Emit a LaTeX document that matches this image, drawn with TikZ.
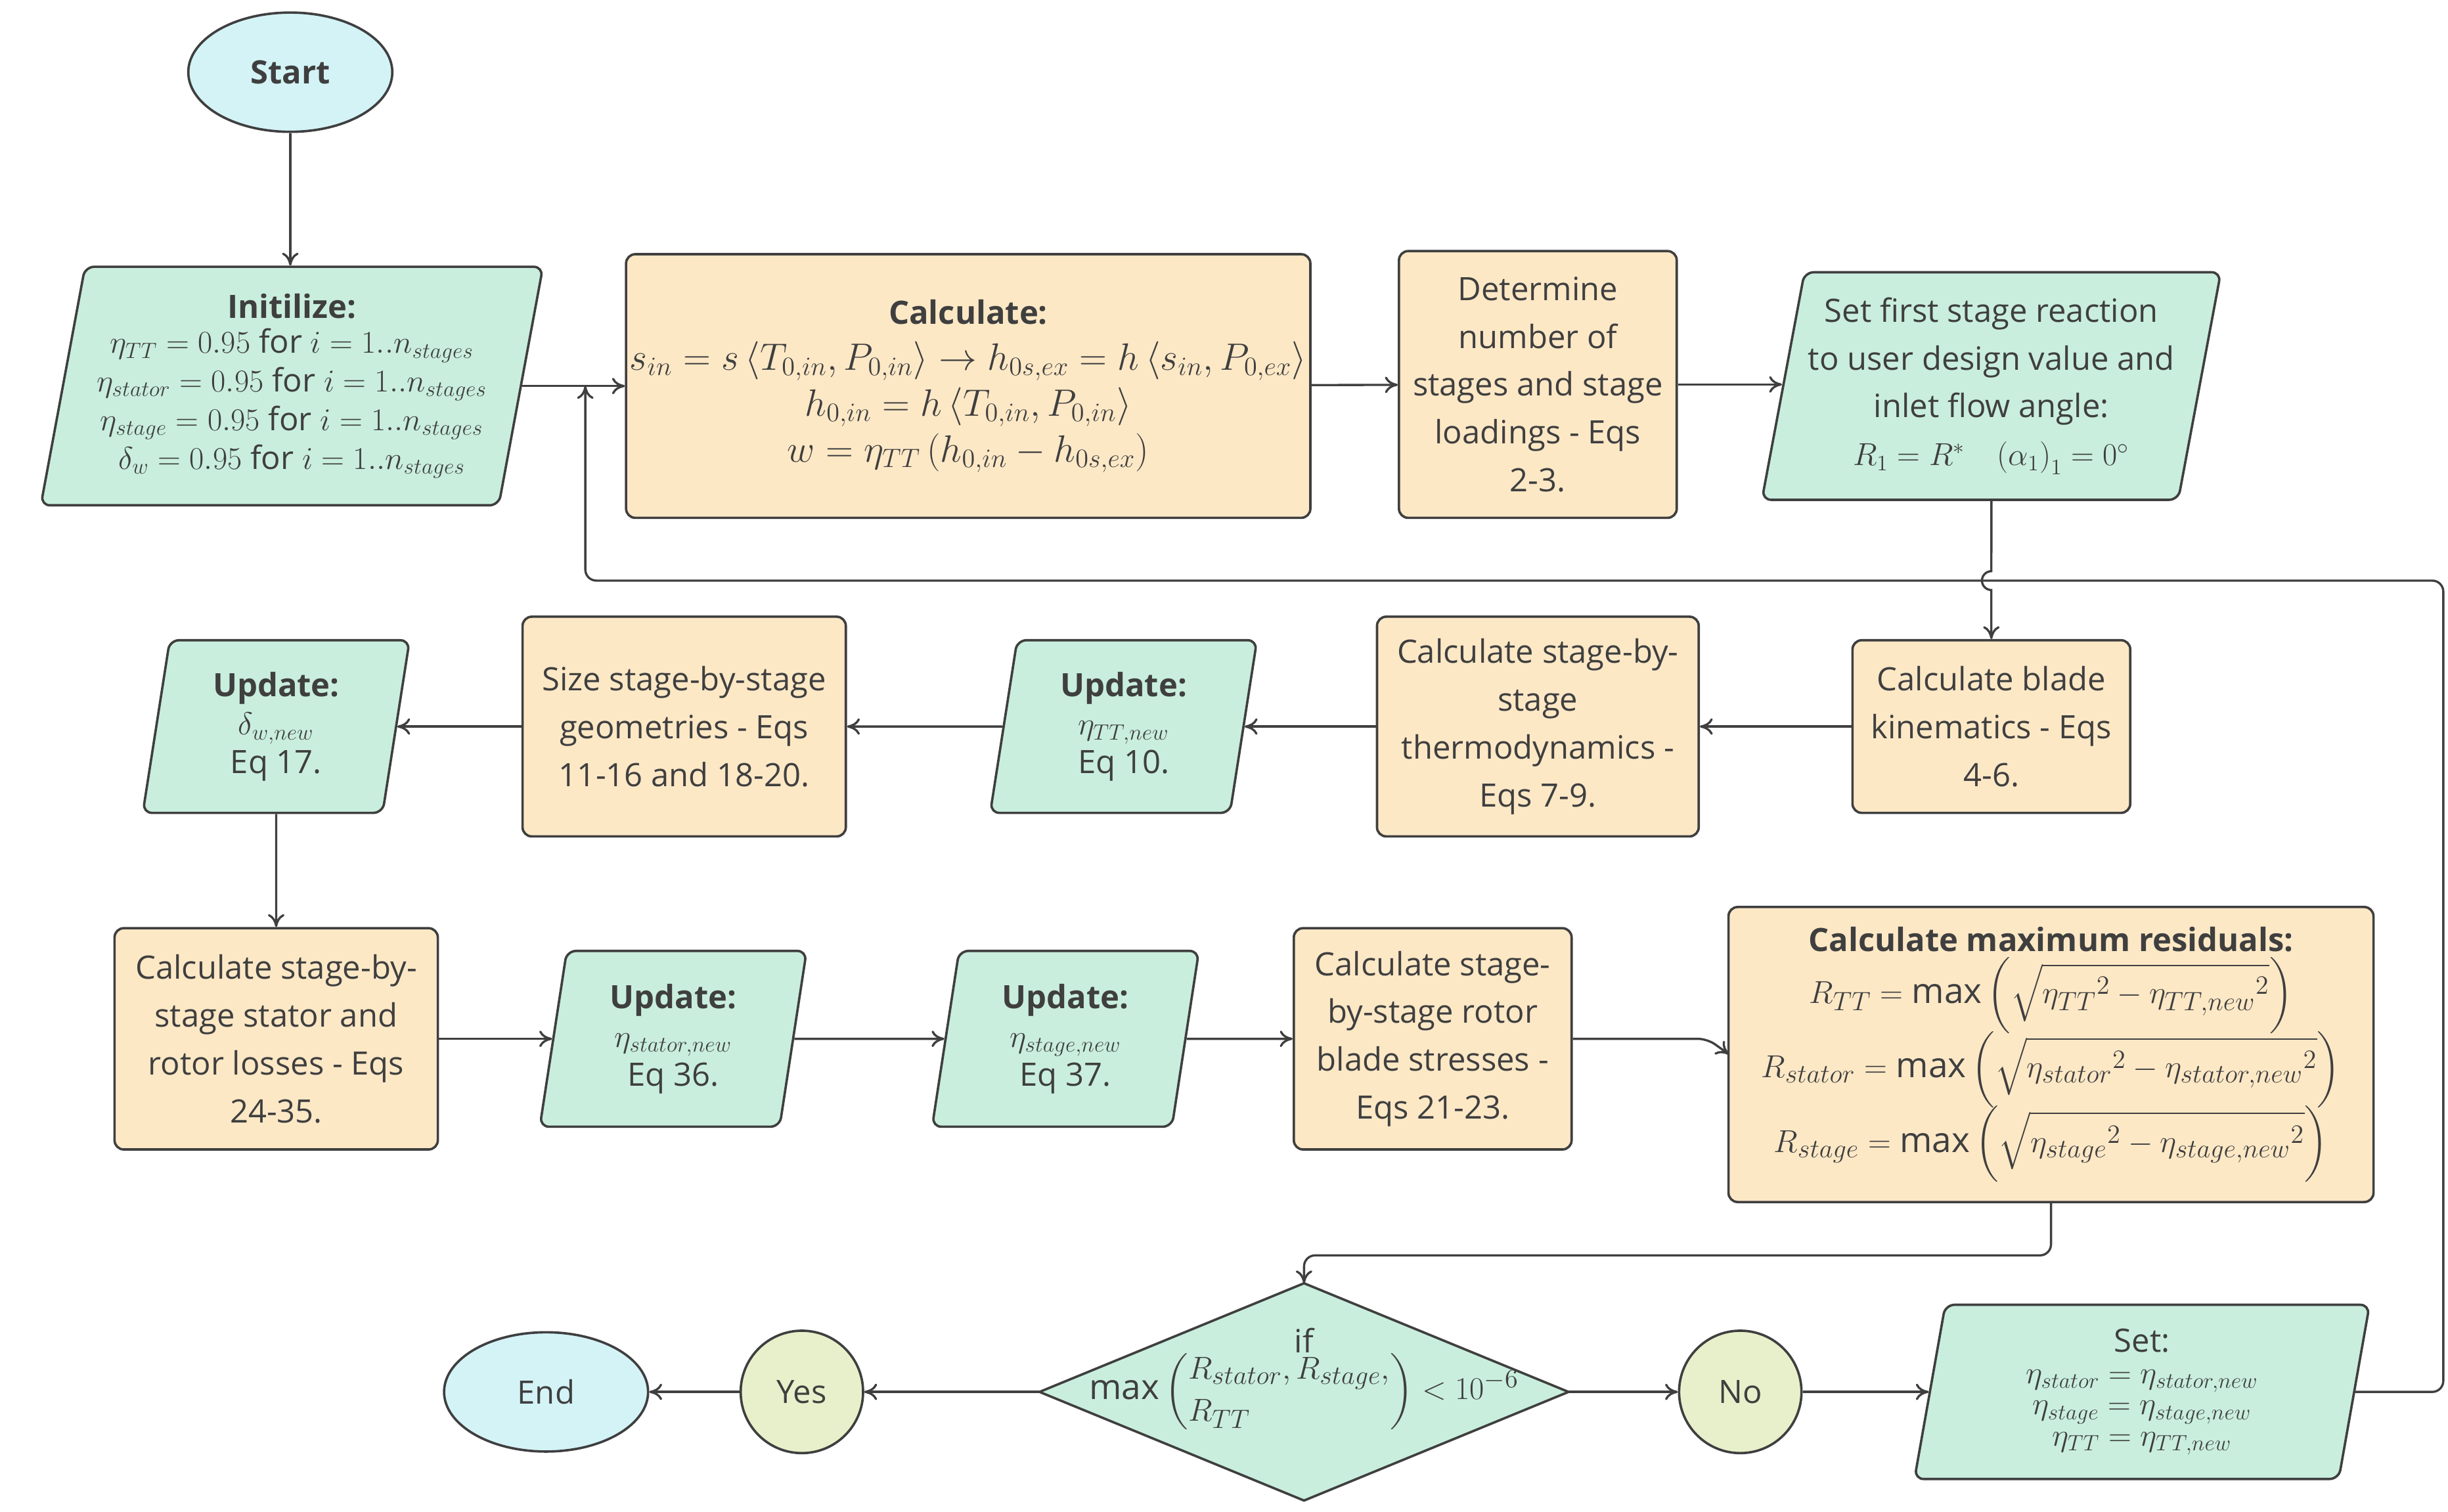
\documentclass[tikz,border=0pt]{standalone}
\usepackage{fontspec}
\setmainfont{Open Sans}
\usepackage{amsmath}
\usetikzlibrary{shapes.geometric,arrows.meta}
\definecolor{grn}{HTML}{C9EEDD}
\definecolor{org}{HTML}{FDE8C6}
\definecolor{cya}{HTML}{D4F3F6}
\definecolor{yel}{HTML}{E8F0CB}
\definecolor{edge}{HTML}{3F3F3F}
\begin{document}
\begin{tikzpicture}[x=0.03cm,y=-0.03cm,
 base/.style={draw=edge,line width=1.3pt,align=center,text=edge,font=\fontsize{17.5}{21}\selectfont,inner sep=2pt},
 box/.style={base,fill=org,rounded corners=5pt},
 par/.style={base,fill=grn,trapezium,trapezium left angle=77,trapezium right angle=103,trapezium stretches body=true,rounded corners=5pt},
 oval/.style={base,ellipse,fill=cya},
 circ/.style={base,circle,fill=yel,minimum size=2.34cm},
 arr/.style={draw=edge,line width=1.2pt,-{To[length=7pt,width=9pt]}},
]
\useasboundingbox (0,0) rectangle (1560,963.5);
\node[oval,minimum width=3.9cm,minimum height=2.28cm,font=\fontsize{17.5}{21}\selectfont\bfseries] (start) at (185,46) {Start};
\node[par,minimum width=9.6cm,minimum height=4.56cm] (init) at (186,246) {\textbf{Initilize:}\\[-2pt]
$\large\eta_{TT}=0.95$ for $\large i=1..n_{stages}$\\$\large\eta_{stator}=0.95$ for $\large i=1..n_{stages}$\\$\large\eta_{stage}=0.95$ for $\large i=1..n_{stages}$\\$\large\delta_{w}=0.95$ for $\large i=1..n_{stages}$};
\node[box,minimum width=12.75cm,minimum height=5.04cm,font=\fontsize{20}{25}\selectfont] (calc) at (617,246) {\fontsize{17.5}{21}\selectfont\textbf{Calculate:}\\
$s_{in}=s\left\langle T_{0,in},P_{0,in}\right\rangle\rightarrow h_{0s,ex}=h\left\langle s_{in},P_{0,ex}\right\rangle$\\
$h_{0,in}=h\left\langle T_{0,in},P_{0,in}\right\rangle$\\
$w=\eta_{TT}\left(h_{0,in}-h_{0s,ex}\right)$};
\node[box,minimum width=5.31cm,minimum height=5.1cm,font=\fontsize{17.5}{26}\selectfont] (det) at (980,245) {Determine\\number of\\stages and stage\\loadings - Eqs\\2-3.};
\node[par,minimum width=7.9cm,minimum height=4.35cm,font=\fontsize{17.5}{26}\selectfont] (setf) at (1269,246) {Set first stage reaction\\to user design value and\\inlet flow angle:\\$\Large R_1=R^{*}\quad\left(\alpha_1\right)_1=0^{\circ}$};
\node[box,minimum width=5.31cm,minimum height=3.3cm,font=\fontsize{17.5}{26}\selectfont] (blade) at (1269,463) {Calculate blade\\kinematics - Eqs\\4-6.};
\node[box,minimum width=6.15cm,minimum height=4.2cm,font=\fontsize{17.5}{26}\selectfont] (thermo) at (980,463) {Calculate stage-by-\\stage\\thermodynamics -\\Eqs 7-9.};
\node[par,minimum width=5.1cm,minimum height=3.3cm] (utt) at (716,463) {\textbf{Update:}\\$\Large\eta_{TT,new}$\\Eq 10.};
\node[box,minimum width=6.18cm,minimum height=4.2cm,font=\fontsize{17.5}{26}\selectfont] (size) at (436,463) {Size stage-by-stage\\geometries - Eqs\\11-16 and 18-20.};
\node[par,minimum width=5.1cm,minimum height=3.3cm] (udw) at (176,463) {\textbf{Update:}\\$\Large\delta_{w,new}$\\Eq 17.};
\node[box,minimum width=6.18cm,minimum height=4.23cm,font=\fontsize{17.5}{26}\selectfont] (loss) at (176,662) {Calculate stage-by-\\stage stator and\\rotor losses - Eqs\\24-35.};
\node[par,minimum width=5.1cm,minimum height=3.36cm] (ust) at (429,662) {\textbf{Update:}\\$\Large\eta_{stator,new}$\\Eq 36.};
\node[par,minimum width=5.1cm,minimum height=3.36cm] (usg) at (679,662) {\textbf{Update:}\\$\Large\eta_{stage,new}$\\Eq 37.};
\node[box,minimum width=5.31cm,minimum height=4.23cm,font=\fontsize{17.5}{26}\selectfont] (stress) at (913,662) {Calculate stage-\\by-stage rotor\\blade stresses -\\Eqs 21-23.};
\node[box,minimum width=12.33cm,minimum height=5.64cm,font=\fontsize{19}{23}\selectfont] (res) at (1307,672) {{\fontsize{17.5}{21}\selectfont\textbf{Calculate maximum residuals:}}\\[2pt]
$\displaystyle R_{TT}=\max\left(\sqrt{{\eta_{TT}}^{2}-{\eta_{TT,new}}^{2}}\right)$\\[-2pt]
$\displaystyle R_{stator}=\max\left(\sqrt{{\eta_{stator}}^{2}-{\eta_{stator,new}}^{2}}\right)$\\[-2pt]
$\displaystyle R_{stage}=\max\left(\sqrt{{\eta_{stage}}^{2}-{\eta_{stage,new}}^{2}}\right)$};
\node[minimum width=10.1cm,minimum height=4.14cm,inner sep=0pt] (dia) at (831,887) {};
\draw[draw=edge,fill=grn,line width=1.3pt] (dia.north) -- (dia.east) -- (dia.south) -- (dia.west) -- cycle;
\node[font=\fontsize{19}{23}\selectfont,text=edge,align=center] (diat) at (831,880) {{\fontsize{17.5}{21}\selectfont if}\\[-3pt]$\max\left(\begin{array}{@{}l@{}}R_{stator},R_{stage},\\R_{TT}\end{array}\right)<10^{-6}$};
\node[circ] (no) at (1109,887) {No};
\node[par,minimum width=8.7cm,minimum height=3.33cm,font=\fontsize{17.5}{19}\selectfont] (set) at (1365,887) {Set:\\[-2pt]$\large\eta_{stator}=\eta_{stator,new}$\\[-2pt]$\large\eta_{stage}=\eta_{stage,new}$\\[-2pt]$\large\eta_{TT}=\eta_{TT,new}$};
\node[circ] (yes) at (511,887) {Yes};
\node[oval,minimum width=3.9cm,minimum height=2.28cm,fill=cya] (end) at (348,887) {End};
\coordinate (jn) at (373,246);
% connectors
\draw[arr] (start) -- (init.north-|start);
\draw[arr] (init.east|-calc) -- (calc.west);
\draw[arr] (calc) -- (det);
\draw[arr] (det) -- (setf.west|-det);
\draw[arr] (setf.south) -- (1269,364) arc (90:-90:-6) -- (blade.north);
\draw[arr] (blade) -- (thermo);
\draw[arr] (thermo) -- (utt.east|-thermo);
\draw[arr] (utt) -- (size);
\draw[arr] (size) -- (udw.east|-size);
\draw[arr] (udw.south) -- (loss.north);
\draw[arr] (loss) -- (ust.west|-loss);
\draw[arr] (ust) -- (usg);
\draw[arr] (usg) -- (stress);
\draw[arr,rounded corners=5pt] (stress.east) -- (1088,662) -- (1102,672);
\draw[arr,rounded corners=6pt] (res.south) -- (1307,800) -- (831,800) -- (dia.north);
\draw[arr] (dia.east) -- (no);
\draw[arr] (no) -- (set.west|-no);
\draw[arr] (dia.west) -- (yes);
\draw[arr] (yes) -- (end);
\draw[arr,rounded corners=6pt] (set.east|-set) -- (1557,887) -- (1557,370) -- (373,370) -- (jn);
\end{tikzpicture}
\end{document}
